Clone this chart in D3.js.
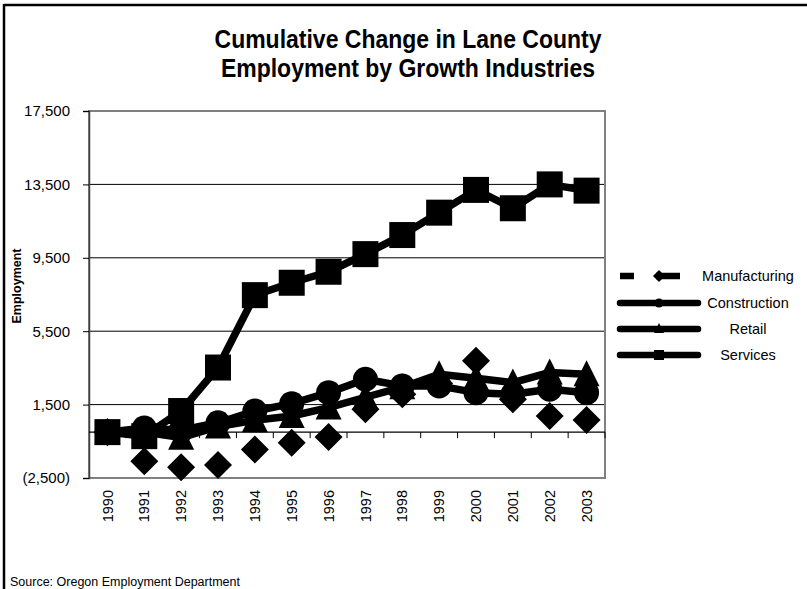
<!DOCTYPE html>
<html>
<head>
<meta charset="utf-8">
<script src="https://cdn.jsdelivr.net/npm/d3@7"></script>
<style>
  body { margin: 0; background: #fff; }
  svg { display: block; font-family: Arial, "Liberation Sans", sans-serif; }
</style>
</head>
<body>
<div id="chart-container"></div>
<script>
// data
const years = ["1990", "1991", "1992", "1993", "1994", "1995", "1996", "1997", "1998", "1999", "2000", "2001", "2002", "2003"];
const manufacturing = [0, -1590, -1915, -1785, -950, -580, -270, 1240, 2060, 2650, 3890, 1790, 880, 660];
const construction = [0, 220, 100, 510, 1150, 1550, 2150, 2880, 2520, 2520, 2150, 2060, 2340, 2150];
const retail = [0, 0, -300, 300, 650, 880, 1340, 1900, 2450, 3150, 2940, 2700, 3250, 3160];
const services = [0, -220, 1150, 3520, 7465, 8140, 8740, 9700, 10740, 11960, 13200, 12200, 13500, 13160];
const yTicks = [-2500, 1500, 5500, 9500, 13500, 17500];
const seriesNames = ["Manufacturing", "Construction", "Retail", "Services"];
const titleLines = ["Cumulative Change in Lane County", "Employment by Growth Industries"];

const width = 807;
const height = 589;
const plot = {left: 89, right: 605, top: 111, bottom: 478};

const svg = d3.select("#chart-container").append("svg")
    .attr("width", width)
    .attr("height", height);

// outer frame (only top and left edges are visible in the picture)
svg.append("line").attr("x1", 4).attr("x2", width).attr("y1", 5).attr("y2", 5)
    .attr("stroke", "#000").attr("stroke-width", 2.5);
svg.append("line").attr("x1", 4).attr("x2", 4).attr("y1", 4).attr("y2", height)
    .attr("stroke", "#000").attr("stroke-width", 2.5);

// title (slightly taller than wide in the original)
svg.append("g")
    .selectAll("text")
    .data(titleLines)
    .join("text")
    .attr("transform", (d, i) => `translate(408,${48 + i * 29}) scale(1,1.15)`)
    .attr("text-anchor", "middle")
    .style("font-size", "23px")
    .style("font-weight", "bold")
    .text(d => d);

const x = d3.scaleBand().domain(years).range([plot.left, plot.right]);
const y = d3.scaleLinear().domain([-2500, 17500]).range([plot.bottom, plot.top]);

// gridlines
svg.append("g")
    .selectAll("line")
    .data(yTicks.filter(d => d > -2500 && d < 17500))
    .join("line")
    .attr("x1", plot.left).attr("x2", plot.right)
    .attr("y1", d => y(d)).attr("y2", d => y(d))
    .attr("stroke", "#000").attr("stroke-width", 1);

// plot border
svg.append("rect")
    .attr("x", plot.left).attr("y", plot.top)
    .attr("width", plot.right - plot.left).attr("height", plot.bottom - plot.top)
    .attr("fill", "none").attr("stroke", "#808080").attr("stroke-width", 2);

// y axis
const yAxis = svg.append("g")
    .attr("transform", `translate(${plot.left},0)`)
    .call(d3.axisLeft(y).tickValues(yTicks).tickSize(6).tickPadding(13)
        .tickFormat(d => d < 0 ? `(${d3.format(",")(-d)})` : d3.format(",")(d)));
yAxis.select(".domain").attr("stroke", "#404040").attr("stroke-width", 1.5);
yAxis.selectAll("text").style("font-size", "15px").attr("fill", "#000");

svg.append("text")
    .attr("transform", "translate(21,286) rotate(-90)")
    .attr("text-anchor", "middle")
    .style("font-size", "12.5px")
    .style("font-weight", "bold")
    .text("Employment");

// x axis at zero, ticks between categories
const x0 = y(0);
svg.append("line").attr("x1", plot.left).attr("x2", plot.right)
    .attr("y1", x0).attr("y2", x0).attr("stroke", "#000").attr("stroke-width", 1.2);
svg.append("g")
    .selectAll("line")
    .data(years)
    .join("line")
    .attr("x1", d => x(d) + x.bandwidth())
    .attr("x2", d => x(d) + x.bandwidth())
    .attr("y1", x0).attr("y2", x0 + 6)
    .attr("stroke", "#000");

svg.append("g")
    .selectAll("text")
    .data(years)
    .join("text")
    .attr("transform", d => `translate(${x(d) + x.bandwidth() / 2},490) rotate(-90)`)
    .attr("text-anchor", "end")
    .attr("dy", "0.35em")
    .style("font-size", "14.5px")
    .text(d => d);

// markers
function marker(g, shape, s) {
    if (shape === "square") {
        g.append("rect").attr("x", -s / 2).attr("y", -s / 2).attr("width", s).attr("height", s);
    } else if (shape === "circle") {
        g.append("circle").attr("r", s / 2 - 0.5);
    } else if (shape === "triangle") {
        g.append("path").attr("d", `M0,${-s / 2 - 1}L${s / 2},${s / 2 - 1}L${-s / 2},${s / 2 - 1}Z`);
    } else {
        g.append("path").attr("d", `M0,${-s / 2 - 1}L${s / 2 + 1},0L0,${s / 2 + 1}L${-s / 2 - 1},0Z`);
    }
}

const seriesData = [
    {name: "Manufacturing", values: manufacturing, shape: "diamond", line: false},
    {name: "Construction", values: construction, shape: "circle", line: true},
    {name: "Retail", values: retail, shape: "triangle", line: true},
    {name: "Services", values: services, shape: "square", line: true}
];

const lineGen = d3.line()
    .x((d, i) => x(years[i]) + x.bandwidth() / 2)
    .y(d => y(d));

seriesData.forEach(s => {
    const g = svg.append("g");
    if (s.line) {
        g.append("path")
            .attr("d", lineGen(s.values))
            .attr("fill", "none")
            .attr("stroke", "#000")
            .attr("stroke-width", 7.5)
            .attr("stroke-linejoin", "round");
    }
    s.values.forEach((v, i) => {
        const m = g.append("g")
            .attr("transform", `translate(${x(years[i]) + x.bandwidth() / 2},${y(v)})`)
            .attr("fill", "#000");
        marker(m, s.shape, 26);
    });
});

// legend
const legendY = [276, 303, 329, 355];
seriesData.forEach((s, i) => {
    const g = svg.append("g").attr("transform", `translate(0,${legendY[i]})`);
    g.append("line")
        .attr("x1", 620).attr("x2", s.line ? 698 : 680)
        .attr("stroke", "#000").attr("stroke-width", 6.5)
        .attr("stroke-linecap", s.line ? "round" : "butt")
        .attr("stroke-dasharray", s.line ? null : "14,22,30,100");
    const m = g.append("g").attr("transform", "translate(659,0)").attr("fill", "#000");
    marker(m, s.shape, 10);
    g.append("text")
        .attr("x", 748).attr("dy", "0.35em")
        .attr("text-anchor", "middle")
        .style("font-size", "14.5px")
        .text(seriesNames[i]);
});

// source note, clipped by the bottom edge as in the original
svg.append("text")
    .attr("x", 10).attr("y", 586)
    .style("font-size", "12.5px")
    .text("Source: Oregon Employment Department");
</script>
</body>
</html>
